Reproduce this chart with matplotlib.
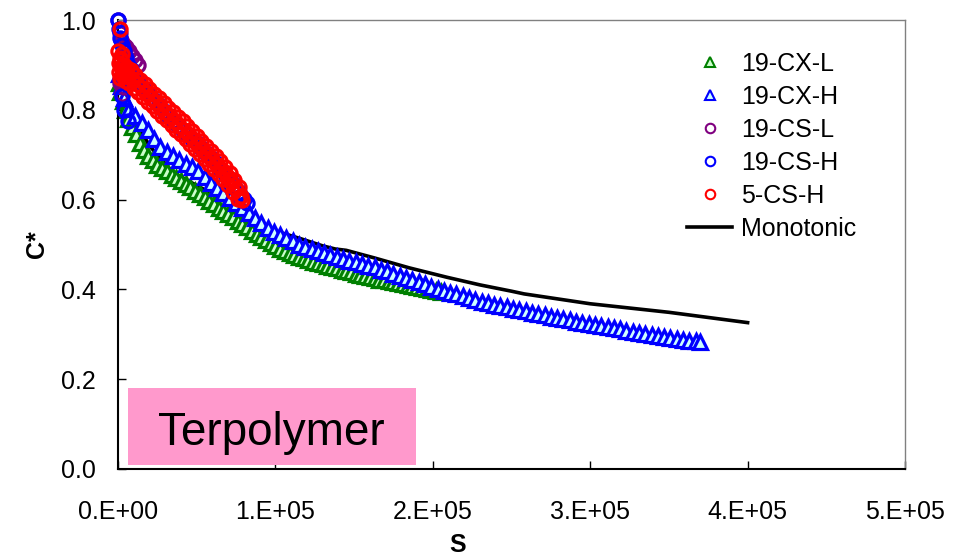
import matplotlib
matplotlib.use('Agg')
import matplotlib.pyplot as plt
from matplotlib.patches import Rectangle

plt.rcParams['font.family'] = ['Liberation Sans', 'DejaVu Sans']

#%% Data (S in units of 1e3)

# 19-CX-L, green triangles
cxl_s = [0.5, 1.5, 3, 4.5, 6.5, 9, 11.5, 14, 16.5, 19, 22, 25, 28, 31, 34, 37, 40, 43, 46, 49,
         52, 55, 58, 61, 64, 67, 70, 73, 76, 79, 82, 85, 88, 91, 94, 97, 100, 103, 106, 109,
         112, 115, 118, 121, 124, 127, 130, 133, 136, 139, 142, 145, 148, 151, 154, 157, 160,
         163, 166, 169, 172, 175, 178, 181, 184, 187, 190, 193, 196, 199, 202, 205]
cxl_c = [0.860, 0.840, 0.820, 0.800, 0.780, 0.762, 0.745, 0.726, 0.710, 0.698, 0.688, 0.678,
         0.670, 0.663, 0.655, 0.649, 0.642, 0.635, 0.627, 0.620, 0.612, 0.605, 0.597, 0.590,
         0.582, 0.575, 0.568, 0.561, 0.553, 0.545, 0.538, 0.531, 0.524, 0.517, 0.510, 0.503,
         0.497, 0.491, 0.486, 0.481, 0.477, 0.473, 0.469, 0.466, 0.462, 0.459, 0.456, 0.453,
         0.450, 0.447, 0.444, 0.441, 0.438, 0.435, 0.432, 0.430, 0.427, 0.425, 0.422, 0.420,
         0.418, 0.416, 0.414, 0.411, 0.409, 0.407, 0.405, 0.403, 0.401, 0.399, 0.397, 0.395]

# 19-CX-H, blue triangles
cxh_s = [0.5, 2, 4, 7, 11, 15, 19, 23, 27, 31, 35, 39, 43, 47, 51, 55, 59, 63, 67, 71, 75, 79,
         83, 87, 91, 95, 99, 103, 107, 111, 115, 119, 123, 127, 131, 135, 139, 143, 147, 151,
         155, 159, 163, 167, 171, 175, 179, 183, 187, 191, 195, 199, 203, 207, 211, 215, 219,
         223, 227, 231, 235, 239, 243, 247, 251, 255, 259, 263, 267, 271, 275, 279, 283, 287,
         291, 295, 299, 303, 307, 311, 315, 319, 323, 327, 331, 335, 339, 343, 347, 351, 355,
         359, 363, 367, 370]
cxh_c = [0.880, 0.852, 0.826, 0.802, 0.786, 0.770, 0.755, 0.735, 0.718, 0.706, 0.697, 0.688,
         0.680, 0.672, 0.663, 0.651, 0.638, 0.625, 0.614, 0.603, 0.593, 0.582, 0.570, 0.558,
         0.547, 0.537, 0.528, 0.521, 0.514, 0.507, 0.500, 0.495, 0.490, 0.485, 0.481, 0.477,
         0.473, 0.468, 0.464, 0.460, 0.457, 0.453, 0.449, 0.444, 0.440, 0.435, 0.430, 0.425,
         0.420, 0.416, 0.411, 0.406, 0.402, 0.397, 0.393, 0.389, 0.385, 0.381, 0.377, 0.373,
         0.369, 0.366, 0.363, 0.360, 0.357, 0.354, 0.351, 0.348, 0.345, 0.342, 0.339, 0.336,
         0.334, 0.331, 0.328, 0.326, 0.323, 0.321, 0.318, 0.316, 0.313, 0.311, 0.308, 0.306,
         0.304, 0.301, 0.299, 0.297, 0.295, 0.292, 0.290, 0.288, 0.286, 0.284, 0.283]

# 19-CS-L, purple circles
csl_s = [0.3, 1, 2, 3.5, 5, 7, 9, 11, 12.5, 1.5, 2.5, 3.5]
csl_c = [1.000, 0.970, 0.955, 0.945, 0.940, 0.930, 0.920, 0.910, 0.900, 0.860, 0.835, 0.850]

# 19-CS-H, blue circles
csh_s = [0.3, 0.8, 1.5, 2.5, 3.5, 5, 6.5, 8, 10, 12, 14, 16, 18, 20, 23, 26, 29, 32, 35, 38,
         41, 44, 47, 50, 53, 56, 59, 62, 65, 68, 71, 74, 77, 80, 82, 2.5, 4, 6.5]
csh_c = [1.000, 0.980, 0.960, 0.945, 0.930, 0.915, 0.900, 0.890, 0.877, 0.866, 0.857, 0.849,
         0.842, 0.835, 0.822, 0.810, 0.798, 0.787, 0.776, 0.765, 0.755, 0.745, 0.735, 0.725,
         0.714, 0.703, 0.692, 0.681, 0.669, 0.657, 0.645, 0.632, 0.618, 0.602, 0.592,
         0.830, 0.800, 0.775]

# 5-CS-H, red circles (thick noisy band)
cs5_s = [0.3, 0.5, 0.8, 1.0, 1.2, 1.5, 1.8, 2.0, 2.5, 3.0, 3.5, 4.0, 4.5, 5.0, 5.5, 6.0, 6.5,
         7.0, 8, 9, 10, 11, 12, 13, 14, 15, 16, 17, 18, 19, 20, 21, 22, 23, 24, 25, 26, 27,
         28, 29, 30, 31, 32, 33, 34, 35, 36, 37, 38, 39, 40, 41, 42, 43, 44, 45, 46, 47, 48,
         49, 50, 51, 52, 53, 54, 55, 56, 57, 58, 59, 60, 61, 62, 63, 64, 65, 66, 67, 68, 69,
         70, 71, 72, 73, 74, 75, 76, 77, 78, 79]
cs5_c = [0.930, 0.905, 0.885, 0.980, 0.915, 0.870, 0.910, 0.895, 0.925, 0.875, 0.890, 0.900,
         0.880, 0.865, 0.880, 0.893, 0.875, 0.860,
         0.888, 0.869, 0.849, 0.878, 0.858, 0.839, 0.867, 0.848, 0.828, 0.857, 0.838, 0.818,
         0.847, 0.827, 0.808, 0.836, 0.817, 0.797, 0.826, 0.806, 0.787, 0.816, 0.796, 0.777,
         0.805, 0.786, 0.766, 0.795, 0.775, 0.756, 0.784, 0.765, 0.746, 0.774, 0.754, 0.735,
         0.763, 0.743, 0.724, 0.752, 0.732, 0.713, 0.741, 0.721, 0.701, 0.730, 0.710, 0.690,
         0.719, 0.699, 0.679, 0.708, 0.688, 0.668, 0.697, 0.677, 0.657, 0.685, 0.665, 0.645,
         0.673, 0.652, 0.632, 0.660, 0.639, 0.618, 0.644, 0.623, 0.602, 0.629, 0.607, 0.600]

# Monotonic, black line
mono_s = [0.5, 2, 5, 10, 20, 35, 55, 60, 80, 100, 116, 130, 138, 145, 163, 185, 209, 230,
          250, 258, 300, 350, 400]
mono_c = [0.970, 0.900, 0.840, 0.780, 0.720, 0.660, 0.622, 0.612, 0.570, 0.530, 0.513, 0.497,
          0.490, 0.487, 0.470, 0.448, 0.427, 0.410, 0.396, 0.390, 0.368, 0.349, 0.326]

x_ticks = [0, 1e5, 2e5, 3e5, 4e5, 5e5]
x_tick_labels = ['0.E+00', '1.E+05', '2.E+05', '3.E+05', '4.E+05', '5.E+05']
y_ticks = [0.0, 0.2, 0.4, 0.6, 0.8, 1.0]

#%% Plot
fsize = 18
msize = 10
edge_w = 2.3

fig = plt.figure(figsize=(9.67, 5.57), dpi=100)
ax = fig.add_axes([118/967, 1-469/557, 787/967, 449/557])

def k(vals):
    return [v*1e3 for v in vals]

ax.plot(k(mono_s), mono_c, color='black', lw=2.6, zorder=1, label='Monotonic')
ax.plot(k(cxl_s), cxl_c, ls='none', marker='^', ms=msize, mec='#008000', mfc='#CCFFCC',
        mew=edge_w, zorder=2, clip_on=False, label='19-CX-L')
ax.plot(k(cxh_s), cxh_c, ls='none', marker='^', ms=msize, mec='#0000FF', mfc='#CCFFFF',
        mew=edge_w, zorder=3, clip_on=False, label='19-CX-H')
ax.plot(k(csl_s), csl_c, ls='none', marker='o', ms=msize - 0.5, mec='#800080', mfc='none',
        mew=edge_w, zorder=4, clip_on=False, label='19-CS-L')
ax.plot(k(csh_s), csh_c, ls='none', marker='o', ms=msize - 0.5, mec='#0000FF', mfc='none',
        mew=edge_w, zorder=5, clip_on=False, label='19-CS-H')
ax.plot(k(cs5_s), cs5_c, ls='none', marker='o', ms=msize - 0.5, mec='#FF0000', mfc='none',
        mew=edge_w, zorder=6, clip_on=False, label='5-CS-H')

ax.set_xlim(0, 5e5)
ax.set_ylim(0, 1.0)
ax.set_xticks(x_ticks)
ax.set_xticklabels(x_tick_labels)
ax.set_yticks(y_ticks)
ax.set_yticklabels(['%.1f' % v for v in y_ticks])
ax.tick_params(direction='in', length=6, width=1, labelsize=fsize)
ax.tick_params(axis='x', pad=22)
ax.tick_params(axis='y', pad=16)

for sp in ['left', 'bottom']:
    ax.spines[sp].set_color('black')
    ax.spines[sp].set_linewidth(1.5)
for sp in ['top', 'right']:
    ax.spines[sp].set_color('#808080')
    ax.spines[sp].set_linewidth(1.0)

ax.set_xlabel('S', fontsize=fsize, fontweight='bold')
ax.set_ylabel('C*', fontsize=fsize, fontweight='bold')
ax.xaxis.set_label_coords(0.431, -0.143)
ax.yaxis.set_label_coords(-0.088, 0.5)

# pink label box
ax.add_patch(Rectangle((0.0127, 0.009), 0.366, 0.171, transform=ax.transAxes,
                       facecolor='#FF99CC', edgecolor='none', zorder=7))
ax.text(0.195, 0.0535, 'Terpolymer', transform=ax.transAxes, fontsize=33,
        ha='center', va='baseline', zorder=8)

handles, labels = ax.get_legend_handles_labels()
order = [1, 2, 3, 4, 5, 0]
leg = ax.legend([handles[i] for i in order], [labels[i] for i in order],
                loc='upper left', bbox_to_anchor=(687/967, 1-52/557),
                bbox_transform=fig.transFigure, frameon=False, fontsize=fsize,
                handlelength=1.8, handletextpad=0.35, labelspacing=0.36,
                borderpad=0, borderaxespad=0, numpoints=1, markerscale=0.72)
# thinner outlines for the legend symbols
for h in leg.legend_handles[:5]:
    h.set_markeredgewidth(1.5)

fig.savefig('out.png', dpi=100)
